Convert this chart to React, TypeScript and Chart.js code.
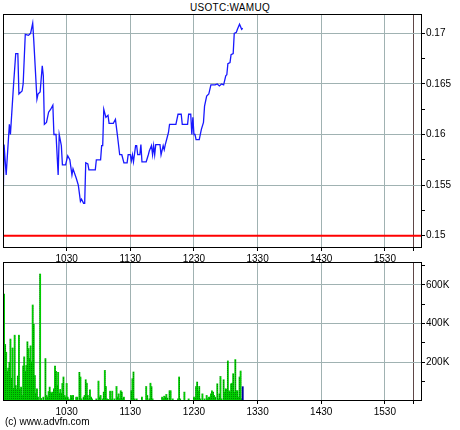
import React, { useEffect, useRef } from 'react';
import { Chart, registerables } from 'chart.js';

Chart.register(...registerables);

const chartTitle = 'USOTC:WAMUQ';
const copyright = '(c) www.advfn.com';

// x axis: minutes after 09:30
const hourTickMinutes = [60, 120, 180, 240, 300, 360];
const hourTickLabels = ['1030', '1130', '1230', '1330', '1430', '1530'];
const closeMinute = 387;
const sessionEndMinute = 395;

const prevClose = 0.15;

const priceTicks = [0.15, 0.1525, 0.155, 0.1575, 0.16, 0.1625, 0.165, 0.1675, 0.17];
const priceTickLabels = ['0.15', '', '0.155', '', '0.16', '', '0.165', '', '0.17'];
const priceMin = 0.14878;
const priceMax = 0.17191;

const volumeTicks = [100, 200, 300, 400, 500, 600, 700];
const volumeTickLabels = ['', '200K', '', '400K', '', '600K', ''];
const volumeMax = 718;

const priceMinutes = [
  0, 1, 3, 4, 6, 7, 10, 12, 14, 15,
  18, 19, 21, 24, 26, 28, 29, 32, 33, 35,
  37, 38, 39, 41, 43, 45, 47, 48, 50, 52,
  53, 55, 56, 59, 61, 63, 65, 66, 69, 71,
  73, 74, 76, 77, 78, 80, 81, 87, 88, 92,
  93, 94, 95, 97, 99, 100, 104, 106, 108, 110,
  112, 114, 117, 118, 120, 121, 122, 123, 125, 126,
  127, 129, 130, 131, 135, 137, 138, 140, 141, 142,
  143, 144, 148, 149, 151, 152, 153, 155, 156, 157,
  163, 165, 168, 169, 174, 175, 177, 178, 179, 180,
  181, 182, 185, 187, 189, 190, 192, 194, 196, 200,
  202, 204, 206, 208, 210, 211, 212, 214, 215, 217,
  218, 220, 221, 223, 225, 226,
];

const prices = [
  0.1525, 0.159, 0.156, 0.1577, 0.161, 0.16, 0.165, 0.168, 0.168, 0.164,
  0.1643, 0.165, 0.1699, 0.1698, 0.17, 0.171, 0.1693, 0.1635, 0.164, 0.1642,
  0.1668, 0.1658, 0.161, 0.1612, 0.1622, 0.1625, 0.1629, 0.16, 0.16, 0.156,
  0.16, 0.1589, 0.157, 0.157, 0.1579, 0.1575, 0.156, 0.1566, 0.1557, 0.155,
  0.1534, 0.1536, 0.1532, 0.1532, 0.1572, 0.1571, 0.1565, 0.1565, 0.1575, 0.1575,
  0.1589, 0.1589, 0.1625, 0.1617, 0.1619, 0.1611, 0.1611, 0.1615, 0.1598, 0.158,
  0.158, 0.1572, 0.1572, 0.158, 0.158, 0.1574, 0.158, 0.1573, 0.1589, 0.1589,
  0.158, 0.158, 0.159, 0.1573, 0.1573, 0.158, 0.1584, 0.1589, 0.158, 0.1589,
  0.158, 0.159, 0.159, 0.158, 0.1589, 0.1585, 0.159, 0.1598, 0.1602, 0.161,
  0.161, 0.162, 0.162, 0.161, 0.161, 0.162, 0.162, 0.16, 0.1617, 0.16,
  0.16, 0.1595, 0.1595, 0.1605, 0.1612, 0.1628, 0.1638, 0.164, 0.1649, 0.1649,
  0.165, 0.1648, 0.165, 0.1649, 0.1658, 0.1659, 0.167, 0.1671, 0.1679, 0.168,
  0.17, 0.1701, 0.1704, 0.1709, 0.1704, 0.1705,
];

// volume in thousands, one value per minute from 09:30
const volumeK = [
  60, 552, 292, 252, 153, 170, 200, 320, 117, 274,
  65, 340, 80, 60, 129, 340, 60, 72, 29, 181,
  228, 153, 184, 306, 271, 219, 285, 202, 496, 396,
  132, 39, 63, 20, 0, 656, 13, 0, 20, 0,
  219, 29, 20, 49, 72, 46, 40, 46, 63, 181,
  153, 80, 148, 40, 60, 40, 91, 124, 29, 20,
  91, 20, 10, 0, 29, 22, 29, 0, 0, 20,
  20, 0, 148, 124, 11, 0, 20, 29, 110, 92,
  29, 11, 58, 20, 11, 0, 0, 0, 11, 0,
  103, 20, 29, 0, 11, 46, 158, 75, 11, 8,
  0, 51, 8, 51, 0, 11, 0, 75, 20, 37,
  11, 53, 46, 11, 20, 0, 0, 0, 0, 0,
  0, 53, 115, 150, 11, 0, 11, 0, 0, 0,
  0, 20, 0, 0, 0, 75, 29, 0, 11, 92,
  74, 11, 0, 0, 0, 0, 0, 0, 0, 0,
  20, 11, 25, 20, 34, 15, 0, 53, 53, 0,
  11, 0, 0, 0, 0, 11, 124, 11, 0, 0,
  0, 46, 0, 0, 0, 11, 0, 0, 0, 0,
  20, 15, 74, 98, 51, 75, 11, 0, 37, 0,
  11, 0, 29, 11, 20, 20, 37, 53, 46, 29,
  20, 0, 89, 11, 37, 127, 11, 0, 110, 46,
  63, 60, 207, 53, 46, 89, 92, 141, 46, 214,
  53, 53, 20, 124, 155, 11, 74,
];

const FONT = "'Liberation Sans Narrow', 'Liberation Sans', Arial, sans-serif";
const GRID = 'rgb(160,178,178)';
const CLOSE_LINE = 'rgb(95,70,70)';

const framePlugin = {
  id: 'frame',
  afterDraw(chart: any) {
    const { ctx, chartArea } = chart;
    const l = Math.round(chartArea.left) + 0.5;
    const r = Math.round(chartArea.right) - 0.5;
    const t = Math.round(chartArea.top) + 0.5;
    const b = Math.round(chartArea.bottom) - 0.5;
    ctx.save();
    ctx.strokeStyle = '#000';
    ctx.lineWidth = 1;
    ctx.strokeRect(l, t, r - l, b - t);
    ctx.restore();
  },
};

function xScale() {
  return {
    type: 'linear',
    min: 0,
    max: sessionEndMinute,
    offset: false,
    afterBuildTicks: (s: any) => {
      s.ticks = [...hourTickMinutes, closeMinute].map((v) => ({ value: v }));
    },
    afterFit: (s: any) => {
      s.height = 14;
    },
    border: { display: false },
    grid: {
      offset: false,
      color: (c: any) => (c.tick && c.tick.value === closeMinute ? CLOSE_LINE : GRID),
      tickColor: '#000',
      tickLength: 3,
      lineWidth: 1,
    },
    ticks: {
      autoSkip: false,
      maxRotation: 0,
      padding: 2,
      color: '#000',
      font: { family: FONT, size: 10 },
      callback: (_v: any, i: number) => (i < hourTickLabels.length ? hourTickLabels[i] : ''),
    },
  };
}

function yScale(min: number, max: number, values: number[], labels: string[]) {
  return {
    type: 'linear',
    position: 'right',
    min,
    max,
    afterBuildTicks: (s: any) => {
      s.ticks = values.map((v) => ({ value: v }));
    },
    afterFit: (s: any) => {
      s.width = 38;
    },
    border: { display: false },
    grid: {
      color: (c: any) => (c.tick && labels[values.indexOf(c.tick.value)] ? GRID : 'rgba(0,0,0,0)'),
      tickColor: '#000',
      tickLength: 3,
      lineWidth: 1,
    },
    ticks: {
      autoSkip: false,
      padding: 1,
      color: '#000',
      font: { family: FONT, size: 10 },
      callback: (_v: any, i: number) => labels[i] || '',
    },
  };
}

export default function App() {
  const priceRef = useRef<HTMLCanvasElement>(null);
  const volRef = useRef<HTMLCanvasElement>(null);

  useEffect(() => {
    document.body.style.margin = '0';
    const pc = priceRef.current!;
    const vc = volRef.current!;

    const priceChart = new Chart(pc, {
      type: 'line',
      data: {
        datasets: [
          {
            data: [
              { x: 0, y: prevClose },
              { x: sessionEndMinute, y: prevClose },
            ],
            borderColor: '#ff0000',
            borderWidth: 2,
            pointRadius: 0,
            order: 2,
          },
          {
            data: priceMinutes.map((m, i) => ({ x: m, y: prices[i] })),
            borderColor: '#1818ff',
            borderWidth: 1.3,
            pointRadius: 0,
            tension: 0,
            order: 1,
          },
        ],
      },
      options: {
        animation: false,
        responsive: false,
        devicePixelRatio: 1,
        parsing: false as any,
        layout: { padding: { left: 3, right: 0, top: 14, bottom: 0 } },
        plugins: { legend: { display: false }, tooltip: { enabled: false }, title: { display: false } },
        scales: {
          x: xScale() as any,
          y: yScale(priceMin, priceMax, priceTicks, priceTickLabels) as any,
        },
      },
      plugins: [framePlugin],
    });

    const pat = document.createElement('canvas');
    pat.width = 2;
    pat.height = 2;
    const pctx = pat.getContext('2d')!;
    pctx.fillStyle = '#00cc00';
    pctx.fillRect(0, 0, 2, 2);
    pctx.fillStyle = '#008a00';
    pctx.fillRect(1, 1, 1, 1);
    const pattern = vc.getContext('2d')!.createPattern(pat, 'repeat');
    const lastIdx = volumeK.length - 1;

    const volData = volumeK
      .map((v, i) => ({ x: i, y: v }))
      .filter((p) => p.y > 0);

    const volChart = new Chart(vc, {
      type: 'bar',
      data: {
        datasets: [
          {
            data: volData as any,
            backgroundColor: (c: any) => {
              const raw = c.raw;
              return raw && raw.x === lastIdx ? '#0000a0' : pattern;
            },
            borderWidth: 0,
            barThickness: 1.2,
            grouped: false,
          } as any,
        ],
      },
      options: {
        animation: false,
        responsive: false,
        devicePixelRatio: 1,
        layout: { padding: { left: 3, right: 0, top: 7, bottom: 15 } },
        plugins: { legend: { display: false }, tooltip: { enabled: false } },
        scales: {
          x: xScale() as any,
          y: yScale(0, volumeMax, volumeTicks, volumeTickLabels) as any,
        },
      },
      plugins: [framePlugin],
    });

    return () => {
      priceChart.destroy();
      volChart.destroy();
    };
  }, []);

  return (
    <div style={{ position: 'relative', width: 460, height: 430, background: '#fff', overflow: 'hidden' }}>
      <div
        style={{
          position: 'absolute',
          left: 0,
          top: 2,
          width: 460,
          textAlign: 'center',
          fontFamily: "'Liberation Sans', Arial, sans-serif",
          fontSize: 10,
          lineHeight: '12px',
          color: '#000',
          letterSpacing: '0.3px',
        }}
      >
        {chartTitle}
      </div>
      <canvas ref={priceRef} width={460} height={262} style={{ position: 'absolute', left: 0, top: 0 }} />
      <canvas ref={volRef} width={460} height={175} style={{ position: 'absolute', left: 0, top: 255 }} />
      <div
        style={{
          position: 'absolute',
          left: 5,
          top: 416,
          fontFamily: "'Liberation Sans', Arial, sans-serif",
          fontSize: 10,
          lineHeight: '12px',
          color: '#000',
        }}
      >
        {copyright}
      </div>
    </div>
  );
}
